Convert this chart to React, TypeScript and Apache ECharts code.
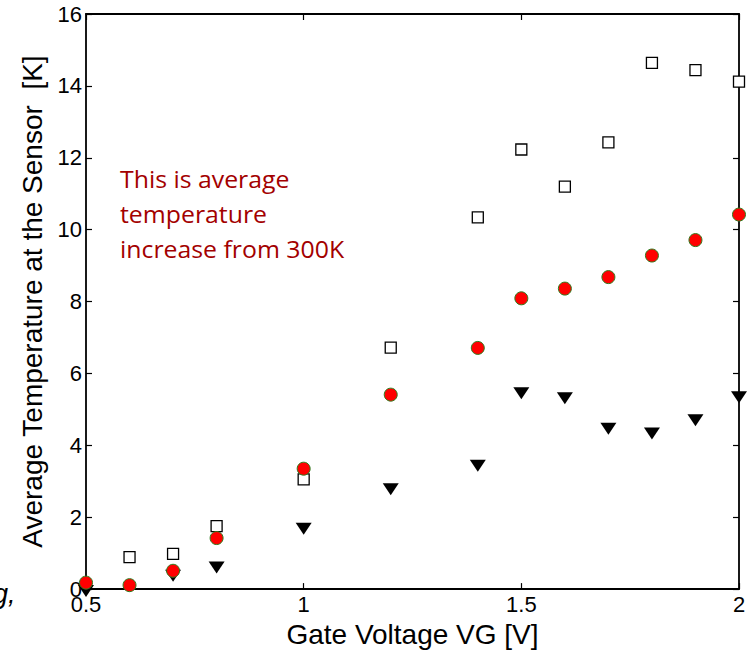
import React, { useEffect, useRef } from "react";
import * as echarts from "echarts";

const gateVoltage = [0.5, 0.6, 0.7, 0.8, 1.0, 1.2, 1.4, 1.5, 1.6, 1.7, 1.8, 1.9, 2.0];
const squareX = [0.6, 0.7, 0.8, 1.0, 1.2, 1.4, 1.5, 1.6, 1.7, 1.8, 1.9, 2.0];
const squareY = [0.89, 0.98, 1.75, 3.05, 6.72, 10.34, 12.23, 11.2, 12.43, 14.64, 14.44, 14.12];
const circleY = [0.18, 0.11, 0.51, 1.42, 3.35, 5.41, 6.71, 8.09, 8.36, 8.68, 9.28, 9.71, 10.42];
const triangleX = [0.5, 0.7, 0.8, 1.0, 1.2, 1.4, 1.5, 1.6, 1.7, 1.8, 1.9, 2.0];
const triangleY = [-0.05, 0.37, 0.6, 1.68, 2.78, 3.43, 5.45, 5.31, 4.46, 4.33, 4.7, 5.34];
const xTicks = [0.5, 1, 1.5, 2];
const yTicks = [0, 2, 4, 6, 8, 10, 12, 14, 16];
const noteLines = ["This is average", "temperature", "increase from 300K"];

const FONT = "'Liberation Sans', Arial, sans-serif";

export default function App() {
  const ref = useRef<HTMLDivElement>(null);
  useEffect(() => {
    if (!ref.current) return;
    const chart = echarts.init(ref.current, null, { renderer: "svg" });
    const zip = (xs: number[], ys: number[]) => xs.map((x, i) => [x, ys[i]]);
    const tick = { show: true, inside: true, length: 6, lineStyle: { color: "#000", width: 1.2 } };
    const line = { show: true, onZero: false, lineStyle: { color: "#000", width: 1.8 } };
    const yCommon = {
      type: "value" as const,
      min: 0,
      max: 16,
      interval: 2,
      axisLine: line,
      axisTick: tick,
      splitLine: { show: false },
    };
    const xCommon = {
      type: "value" as const,
      min: 0.5,
      max: 2,
      interval: 0.5,
      axisLine: line,
      axisTick: tick,
      splitLine: { show: false },
    };
    chart.setOption({
      animation: false,
      backgroundColor: "#fff",
      grid: { left: 86, top: 14, right: 12, bottom: 60, containLabel: false },
      xAxis: [
        {
          ...xCommon,
          position: "bottom",
          name: "Gate Voltage VG [V]",
          nameLocation: "middle",
          nameGap: 30,
          nameTextStyle: { fontFamily: FONT, fontSize: 28, color: "#000" },
          axisLabel: {
            fontFamily: FONT,
            fontSize: 22,
            color: "#000",
            margin: 4,
            formatter: (v: number) => (xTicks.includes(v) ? String(v) : ""),
          },
        },
        { ...xCommon, position: "top", axisLabel: { show: false } },
      ],
      yAxis: [
        {
          ...yCommon,
          position: "left",
          name: "Average Temperature at the Sensor  [K]",
          nameLocation: "middle",
          nameGap: 40,
          nameTextStyle: { fontFamily: FONT, fontSize: 28, color: "#000" },
          axisLabel: {
            fontFamily: FONT,
            fontSize: 22,
            color: "#000",
            margin: 4,
            formatter: (v: number) => (yTicks.includes(v) ? String(v) : ""),
          },
        },
        { ...yCommon, position: "right", axisLabel: { show: false } },
      ],
      series: [
        {
          type: "scatter",
          data: zip(squareX, squareY),
          symbol: "rect",
          symbolSize: 11,
          clip: false,
          itemStyle: { color: "#fff", borderColor: "#000", borderWidth: 1.3, opacity: 1 },
          z: 2,
        },
        {
          type: "scatter",
          data: zip(triangleX, triangleY),
          symbol: "triangle",
          symbolRotate: 180,
          symbolSize: [16, 12],
          clip: false,
          itemStyle: { color: "#000", opacity: 1 },
          z: 3,
        },
        {
          type: "scatter",
          data: zip(gateVoltage, circleY),
          symbol: "circle",
          symbolSize: 13,
          clip: false,
          itemStyle: { color: "#ff0000", borderColor: "#2e7d1e", borderWidth: 1, opacity: 1 },
          z: 4,
        },
      ],
      graphic: [
        ...noteLines.map((t, i) => ({
          type: "text",
          x: 120,
          y: 179 + i * 35,
          scaleX: 1.08,
          silent: true,
          style: {
            text: t,
            fontFamily: "'Open Sans', 'Noto Sans', sans-serif",
            fontSize: 23,
            fill: "#a30000",
            verticalAlign: "middle",
          },
        })),
        {
          type: "text",
          x: -7,
          y: 607,
          silent: true,
          style: {
            text: "g,",
            fontFamily: FONT,
            fontStyle: "italic",
            fontSize: 27,
            fill: "#000",
            verticalAlign: "bottom",
          },
        },
      ],
    });
    return () => chart.dispose();
  }, []);
  return (
    <div
      ref={ref}
      style={{ position: "absolute", left: 0, top: 0, width: 751, height: 653 }}
    />
  );
}
